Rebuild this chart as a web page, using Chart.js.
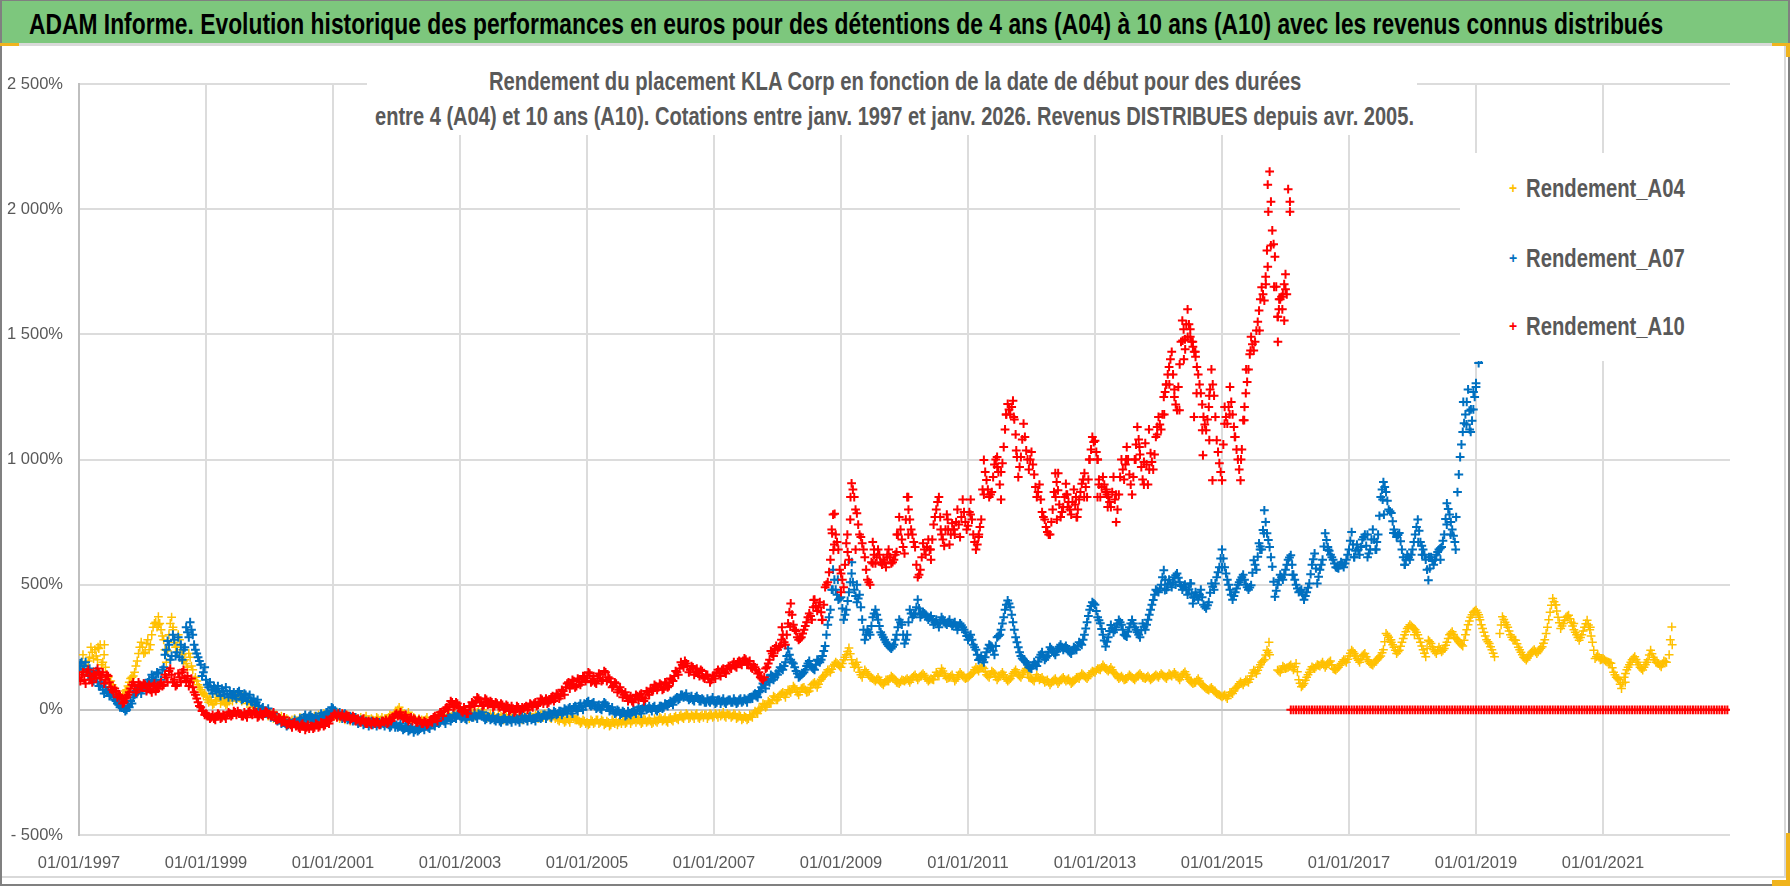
<!DOCTYPE html>
<html>
<head>
<meta charset="utf-8">
<title>ADAM Informe</title>
<script src="https://cdn.jsdelivr.net/npm/chart.js@4"></script>
<style>
  html, body { margin: 0; padding: 0; background: #fff; }
  #page { position: relative; width: 1790px; height: 886px; overflow: hidden; background: #fff; font-family: "Liberation Sans", sans-serif; }
  #chart { position: absolute; left: 0; top: 0; }
  .band { position: absolute; left: 0; top: 0; width: 1790px; height: 43px; background: #7dc77d; border-top: 1px solid #808080; box-sizing: border-box; }
  .fit { position: absolute; white-space: nowrap; transform-origin: 0 0; }
  .rule { position: absolute; background: #d9d9d9; }
  .edge { position: absolute; background: #808080; }
  .accent { position: absolute; background: #f0b41e; }
  .subtitle { position: absolute; left: 367px; top: 64px; width: 1050px; height: 71px; background: #fff; color: #595959; font-weight: bold; font-size: 25px; line-height: 35px; }
  .legendBox { position: absolute; left: 1460px; top: 153px; width: 270px; height: 208px; background: #fff; color: #595959; font-weight: bold; font-size: 26px; line-height: 30px; }
  .mark { position: absolute; left: 49px; font-size: 14px; }
</style>
</head>
<body>
<div id="page">
  <canvas id="chart" width="1790" height="886"></canvas>
  <div class="band"><span class="fit" data-w="1634" style="left:29px;top:5px;font-size:30px;line-height:36px;font-weight:bold;color:#000">ADAM Informe. Evolution historique des performances en euros pour des détentions de 4 ans (A04) à 10 ans (A10) avec les revenus connus distribués</span></div>
  <div class="rule" style="left:0;top:43px;width:1790px;height:3px"></div>
  <div class="rule" style="left:0;top:876px;width:1790px;height:2px"></div>
  <div class="rule" style="left:1784px;top:46px;width:2px;height:832px"></div>
  <div class="edge" style="left:0;top:0;width:2px;height:886px"></div>
  <div class="edge" style="left:0;top:884px;width:1790px;height:2px"></div>
  <div class="edge" style="left:1788px;top:0;width:2px;height:886px"></div>
  <div class="accent" style="left:0;top:43px;width:19px;height:3px"></div>
  <div class="accent" style="left:1772px;top:43px;width:14px;height:3px"></div>
  <div class="accent" style="left:1786px;top:43px;width:4px;height:14px"></div>
  <div class="accent" style="left:1786px;top:833px;width:4px;height:53px"></div>
  <div class="accent" style="left:1772px;top:880px;width:18px;height:6px"></div>
  <div class="subtitle">
    <span class="fit" data-w="812" style="left:122px;top:0">Rendement du placement KLA Corp en fonction de la date de début pour des durées</span>
    <span class="fit" data-w="1039" style="left:8px;top:35px">entre 4 (A04) et 10 ans (A10).  Cotations entre janv. 1997 et janv. 2026. Revenus DISTRIBUES depuis avr. 2005.</span>
  </div>
  <div class="legendBox" id="legendBox"></div>
</div>
<script>
// one value every half month from 01/01/1997, one row per year
const firstYear = 1997;
const perYear = 24;

const a04Values = [
  150,190,180,160,210,230,240,200,260,190,170,130,115,90,70,60,50,60,80,110,130,150,195,250,
  250,230,280,260,330,350,372,320,280,190,300,370,270,250,280,220,200,170,210,160,130,100,80,60,
  55,30,35,25,40,50,35,30,25,45,35,50,60,45,55,40,35,25,20,10,5,-5,-10,-15,
  -20,-25,-30,-25,-35,-40,-45,-40,-50,-55,-45,-50,-40,-35,-45,-30,-35,-25,-30,-35,-25,-20,-15,-20,
  -15,-20,-25,-30,-20,-30,-35,-30,-40,-35,-45,-40,-35,-45,-50,-40,-45,-35,-40,-45,-35,-30,-25,-20,
  -10,10,-5,-15,-25,-30,-40,-35,-45,-50,-45,-40,-55,-50,-45,-40,-35,-30,-25,-30,-20,-25,-15,-20,
  -15,-25,-30,-20,-10,-15,-20,-5,-10,-15,-20,-25,-30,-25,-30,-35,-30,-25,-35,-30,-25,-30,-35,-30,
  -35,-30,-25,-30,-35,-25,-30,-20,-15,-25,-30,-25,-35,-40,-35,-40,-45,-40,-35,-30,-40,-45,-50,-45,
  -50,-55,-45,-50,-40,-50,-45,-55,-50,-60,-50,-45,-50,-55,-45,-50,-40,-45,-35,-40,-45,-50,-40,-45,
  -45,-50,-45,-40,-35,-40,-45,-35,-40,-30,-35,-25,-30,-25,-20,-30,-25,-20,-30,-25,-30,-20,-25,-20,
  -25,-20,-15,-20,-25,-15,-20,-25,-20,-30,-25,-35,-30,-35,-25,-15,-10,5,10,20,15,30,40,50,
  40,60,70,50,80,70,95,80,60,85,90,70,75,100,110,90,115,130,140,160,150,175,190,180,
  170,200,220,247,200,170,190,150,130,160,145,130,125,115,130,110,100,120,115,135,125,110,105,120,
  115,125,110,130,140,120,135,145,130,115,125,120,150,135,165,145,125,130,140,115,130,150,135,125,
  130,140,150,170,155,175,165,140,130,155,145,120,135,150,130,115,125,145,160,140,130,150,165,130,
  125,115,140,120,130,110,120,100,115,125,105,120,130,115,125,105,115,130,125,145,135,125,140,155,
  150,165,160,179,165,155,170,150,140,125,135,120,125,140,130,120,135,145,130,125,135,120,130,140,
  130,145,135,125,145,135,150,135,120,140,152,130,115,105,110,125,105,95,85,79,90,75,65,60,
  52,60,45,70,65,85,95,112,100,120,110,135,159,145,170,190,200,238,220,null,null,159,150,175,
  165,170,179,160,185,120,92,105,130,150,172,165,180,175,190,170,186,195,165,159,170,185,200,190,
  215,238,225,205,190,215,225,200,185,179,195,205,215,240,305,290,270,250,225,238,270,300,325,340,
  330,320,300,270,240,212,278,265,240,225,250,232,245,270,300,312,290,280,265,255,300,340,370,390,
  398,380,340,310,280,265,240,212,null,305,372,350,330,300,280,278,250,230,210,199,215,230,240,225,
  240,252,280,330,390,445,420,370,325,345,370,378,350,320,300,278,300,330,358,320,270,205,220,200,
  205,195,190,186,150,130,120,85,130,160,180,200,212,190,170,159,180,200,238,210,190,185,172,195,
  190,220,331
];

const a07Values = [
  165,190,175,150,165,130,140,110,95,80,90,70,60,50,35,20,15,5,0,10,25,60,70,80,
  85,95,110,100,130,120,145,120,170,240,260,215,280,230,210,200,250,310,350,300,240,210,180,150,
  120,90,80,95,75,70,85,60,65,75,50,55,70,60,45,60,50,35,45,30,15,5,-5,-10,
  -15,-25,-30,-45,-40,-50,-55,-60,-55,-50,-60,-45,-40,-30,-35,-25,-30,-45,-35,-25,-30,-20,-10,-5,
  5,-10,-15,-25,-20,-30,-35,-30,-40,-45,-50,-45,-55,-50,-55,-60,-50,-55,-60,-55,-50,-60,-65,-55,
  -60,-65,-70,-75,-70,-80,-75,-80,-85,-75,-70,-65,-70,-60,-55,-50,-55,-40,-45,-35,-30,-35,-25,-20,
  -25,-30,-35,-25,-20,-30,-25,-15,-20,-30,-35,-30,-35,-40,-35,-45,-40,-35,-45,-40,-35,-45,-40,-35,
  -40,-35,-30,-40,-35,-30,-25,-30,-20,-25,-15,-20,-10,-15,-5,-10,0,5,-5,10,5,15,10,25,
  30,20,25,15,10,5,20,25,10,0,-5,-10,-5,-15,-10,-20,-15,-10,-5,0,-5,5,10,5,
  5,10,0,5,15,10,20,25,30,40,50,45,60,55,50,45,40,50,45,35,40,30,35,40,
  35,30,40,35,30,35,40,30,35,30,45,35,40,45,50,60,55,70,90,100,125,110,135,130,
  140,170,160,190,245,200,185,155,130,140,150,175,195,170,160,200,190,215,255,340,400,560,480,440,
  450,360,400,470,545,480,430,460,360,280,320,300,370,400,360,310,290,270,255,245,260,300,360,340,
  265,300,400,370,385,440,370,390,380,360,375,340,360,330,370,350,340,360,335,350,320,345,330,310,
  280,300,260,240,199,215,190,230,260,252,220,290,300,345,400,437,410,350,290,250,215,200,190,170,
  165,190,175,210,230,200,215,250,235,220,245,260,240,255,235,225,250,240,270,260,300,350,400,430,
  420,370,346,300,253,290,339,310,330,359,340,300,293,330,359,330,310,290,345,320,360,400,439,480,
  470,500,558,480,520,490,530,545,510,480,500,460,505,425,470,440,480,420,405,430,505,480,530,570,
  640,570,520,480,440,470,500,520,540,500,480,498,598,560,665,640,797,705,650,572,452,500,540,520,
  560,600,618,540,500,470,480,440,470,505,580,625,505,560,600,705,650,620,600,570,565,590,570,600,
  640,710,610,660,620,680,700,610,640,720,640,700,850,910,870,800,786,720,690,706,640,580,620,600,
  640,700,760,670,640,600,518,610,580,620,640,650,700,825,780,720,670,870,1010,1110,1180,1280,1110,1200,
  1305,1385,1400
];

const a10Values = [
  130,140,120,150,135,110,140,165,130,150,120,135,90,70,75,60,45,30,50,70,100,95,80,100,
  90,100,85,80,95,75,85,110,100,130,155,140,120,100,130,150,125,135,110,90,60,30,10,-5,
  -15,-25,-30,-35,-25,-20,-30,-25,-20,-15,-20,-10,-5,-15,-25,-20,-10,-15,-5,-10,-25,-20,-15,-10,
  -15,-20,-30,-40,-35,-45,-50,-55,-60,-55,-65,-70,-60,-65,-70,-75,-65,-70,-60,-65,-55,-60,-45,-40,
  -25,-20,-15,-25,-30,-20,-25,-35,-30,-40,-45,-40,-50,-55,-50,-45,-55,-50,-55,-45,-40,-50,-45,-30,
  -15,-20,-25,-30,-35,-40,-45,-40,-50,-45,-55,-50,-55,-40,-30,-35,-20,-10,-5,10,20,30,15,25,
  5,-10,0,-15,10,25,35,45,30,20,40,25,30,15,25,10,20,5,15,0,5,-5,10,0,
  5,15,10,20,25,15,30,40,35,25,40,55,45,60,55,75,90,110,100,115,95,120,110,130,
  125,145,115,110,125,140,120,150,130,110,95,105,80,75,60,50,45,35,45,55,60,50,45,70,
  85,80,95,90,100,85,105,95,120,135,150,165,180,195,175,160,170,150,145,160,130,140,125,120,
  135,150,145,160,150,165,170,180,175,190,185,195,200,185,170,180,160,150,125,130,170,200,225,245,
  240,255,300,260,345,425,340,315,280,290,320,350,385,360,440,395,430,360,490,510,600,780,700,640,
  545,490,665,600,905,850,785,700,665,610,520,500,670,585,640,590,600,570,640,585,600,630,770,680,
  625,850,760,700,650,530,560,665,620,680,600,740,800,850,700,655,780,660,745,700,800,690,840,750,
  735,840,700,640,690,760,998,918,850,870,980,1010,900,985,1120,1222,1180,1235,1100,930,1010,1143,1036,960,
  1030,940,850,900,790,760,710,700,800,945,877,770,810,903,830,780,880,770,840,903,945,850,1000,1090,
  1075,1000,850,930,870,850,810,930,750,860,1000,920,1050,940,860,1000,1130,1020,920,1065,900,1025,960,1090,
  1170,1120,1250,1300,1370,1430,1250,1197,1380,1555,1480,1600,1490,1450,1410,1340,1265,1170,1117,1210,1360,1255,1077,985,
  917,1210,1143,1290,1180,1090,1000,917,1157,1265,1360,1490,1435,1515,1595,1688,1635,1835,2150,1915,1810,1570,1640,1660,
  1740,2080,0,0,0,0,0,0,0,0,0,0,0,0,0,0,0,0,0,0,0,0,0,0,
  0,0,0,0,0,0,0,0,0,0,0,0,0,0,0,0,0,0,0,0,0,0,0,0,
  0,0,0,0,0,0,0,0,0,0,0,0,0,0,0,0,0,0,0,0,0,0,0,0,
  0,0,0,0,0,0,0,0,0,0,0,0,0,0,0,0,0,0,0,0,0,0,0,0,
  0,0,0,0,0,0,0,0,0,0,0,0,0,0,0,0,0,0,0,0,0,0,0,0,
  0,0,0,0,0,0,0,0,0,0,0,0,0,0,0,0,0,0,0,0,0,0,0,0,
  0,0,0,0,0,0,0,0,0,0,0,0,0,0,0,0,0,0,0,0,0,0,0,0
];

// readings that fall between the half month rows
const a04Between = [
  170,220,150,195,250,205,215,245,180,220,140,105,100,75,55,45,55,75,95,125,135,175,225,270,
  225,265,240,300,345,330,345,295,240,235,345,320,250,300,240,195,185,225,175,120,115,90,70,65,
  40,50,20,35,60,25,45,20,40,55,65,40,50,35,60,25,40,10,15,-5,-15,-20,-5,-25,
  -10,-35,-20,-40,-25,-50,-35,-55,-40,-35,-60,-30,-50,-25,-40,-20,-45,-35,-20,-45,-15,-30,-25,-10,
  -25,-10,-35,-15,-40,-20,-45,-25,-30,-50,-30,-50,-25,-40,-35,-55,-30,-50,-30,-35,-45,-20,-35,-10,
  0,-15,-20,-30,-10,-40,-30,-50,-35,-40,-55,-30,-45,-40,-55,-30,-45,-20,-35,-20,-35,-15,-30,-10,
  -30,-15,-20,-35,-5,-25,-10,-15,0,-25,-30,-15,-20,-35,-20,-25,-40,-20,-25,-40,-20,-35,-20,-40,
  -25,-40,-15,-35,-20,-35,-20,-30,-25,-15,-35,-15,-25,-45,-30,-50,-35,-50,-25,-40,-35,-55,-40,-55,
  -60,-40,-55,-40,-55,-40,-60,-45,-65,-40,-55,-60,-40,-45,-55,-40,-55,-35,-50,-30,-55,-35,-50,-35,
  -55,-35,-50,-30,-45,-30,-50,-30,-45,-25,-40,-20,-35,-15,-35,-20,-35,-15,-35,-20,-20,-35,-15,-30,
  -15,-30,-25,-10,-30,-20,-30,-15,-35,-20,-40,-25,-40,-20,-30,-5,-15,0,25,10,35,25,55,40,
  50,65,60,65,75,82,88,70,72,88,80,72,88,105,100,102,122,135,150,155,162,182,185,175,
  185,210,233,224,185,180,170,140,145,152,138,128,120,122,120,105,110,118,125,130,118,108,112,118,
  120,118,120,135,130,128,140,138,122,120,122,135,142,150,155,135,128,135,128,122,140,142,130,128,
  135,145,160,162,165,170,152,135,142,150,132,128,142,140,122,120,135,152,150,135,140,158,148,128,
  120,128,130,125,120,115,110,108,120,115,112,125,122,120,115,110,122,128,135,140,130,132,148,152,
  158,162,170,172,160,162,160,145,132,130,128,122,132,135,125,128,140,138,128,130,128,125,135,135,
  138,140,130,135,140,142,142,128,130,146,141,122,110,108,118,115,100,90,82,85,82,70,62,56,
  56,52,58,68,75,90,104,106,110,115,122,147,152,158,180,195,219,229,null,null,null,155,162,170,
  168,175,170,172,152,106,98,118,140,161,168,172,178,182,180,178,190,180,162,165,178,192,195,202,
  226,232,215,198,202,220,212,192,182,187,200,210,228,272,298,280,260,238,232,254,285,312,332,335,
  325,310,285,255,226,245,272,252,232,238,241,238,258,285,306,301,285,272,260,278,320,355,380,394,
  389,360,325,295,272,252,226,null,null,339,361,340,315,290,279,264,240,220,205,207,222,235,232,232,
  246,266,305,360,418,432,395,348,335,358,374,364,335,310,289,289,315,344,339,295,238,212,210,202,
  200,192,188,168,140,125,102,108,145,170,190,206,201,180,165,170,190,219,224,200,188,178,184,192
];

const a07Between = [
  185,160,190,140,150,115,155,95,110,65,75,55,70,40,25,10,25,-5,15,35,50,75,90,65,
  105,80,120,140,115,150,105,160,220,275,200,300,215,290,260,240,330,290,320,260,225,195,135,170,
  100,110,65,85,95,55,75,90,50,60,70,45,75,40,65,35,60,30,20,40,0,10,-15,5,
  -30,-15,-40,-35,-55,-40,-65,-50,-65,-40,-55,-35,-50,-20,-40,-20,-50,-25,-40,-15,-30,-10,-20,10,
  -5,-20,-10,-35,-15,-40,-25,-45,-30,-55,-40,-60,-45,-65,-45,-55,-65,-50,-45,-65,-50,-70,-50,-70,
  -70,-55,-80,-65,-85,-70,-90,-70,-80,-65,-80,-60,-75,-50,-65,-45,-50,-35,-55,-25,-45,-20,-35,-15,
  -35,-20,-40,-15,-30,-15,-35,-20,-10,-40,-25,-40,-25,-45,-30,-50,-30,-45,-30,-50,-30,-35,-50,-25,
  -30,-45,-25,-35,-45,-20,-35,-20,-35,-10,-30,-5,-20,-5,-20,5,-15,10,-15,15,-5,25,0,15,
  35,15,30,5,20,0,30,15,-5,10,-15,0,-20,-5,-25,-5,-20,0,-15,10,-15,15,0,15,
  -5,15,-5,15,5,25,15,35,20,45,40,60,50,65,40,55,35,55,35,45,30,45,30,50,
  25,40,25,45,25,40,30,45,25,40,30,45,30,50,45,65,50,75,105,85,115,140,120,145,
  155,165,175,215,220,190,170,145,135,145,160,185,180,165,180,195,200,235,300,370,480,520,460,445,
  405,380,435,510,510,455,445,410,320,300,310,335,385,380,335,300,280,262,250,252,280,330,350,300,
  280,350,385,380,410,405,380,385,370,368,360,350,345,350,360,345,350,345,342,335,332,338,320,295,
  290,280,250,220,205,200,210,245,256,236,255,295,320,370,420,425,380,320,270,230,205,195,180,168,
  178,182,192,220,215,208,232,242,228,232,252,250,248,245,230,238,245,255,265,280,325,375,415,425,
  395,358,323,277,272,315,325,320,345,350,320,297,312,345,345,320,300,318,332,340,380,420,460,475,
  485,530,520,500,505,510,538,528,495,490,480,482,465,448,455,460,450,412,418,468,492,505,550,605,
  605,545,500,460,455,485,510,530,520,490,489,548,580,612,652,718,750,678,610,512,476,520,530,540,
  580,609,580,520,485,475,460,455,488,542,602,565,532,580,652,678,635,610,585,568,578,580,585,620,
  675,660,635,640,650,690,655,625,680,680,670,775,880,890,835,793,753,705,698,673,610,600,610,620,
  670,730,715,655,620,560,565,595,600,630,645,675,762,802,750,695,770,940,1060,1145,1230,1195,1155,1250
];

const a10Between = [
  115,150,105,160,120,145,125,150,140,105,140,110,80,85,50,55,25,45,60,85,110,70,110,90,
  105,75,100,70,105,85,100,95,140,110,165,110,95,145,110,160,115,95,125,70,45,15,-5,-20,
  -25,-35,-20,-40,-15,-35,-20,-35,-10,-25,-5,-20,-15,-25,-10,-30,-5,-20,-15,-30,-10,-25,-5,-20,
  -25,-10,-40,-30,-50,-30,-60,-45,-70,-50,-60,-75,-55,-80,-60,-65,-75,-55,-70,-50,-65,-40,-55,-30,
  -15,-30,-25,-15,-35,-25,-40,-25,-45,-35,-50,-35,-55,-45,-60,-50,-45,-60,-45,-50,-55,-35,-30,-20,
  -25,-10,-35,-20,-45,-30,-35,-50,-40,-55,-45,-60,-45,-50,-25,-45,-10,-25,5,0,35,10,30,10,
  -5,10,-15,15,30,15,50,30,15,45,20,35,10,30,15,25,0,20,-5,15,-10,15,-5,10,
  10,0,25,10,30,20,45,25,45,30,50,35,65,45,80,60,105,85,120,90,125,100,135,115,
  150,110,135,105,145,115,155,115,125,90,110,70,90,50,70,35,55,30,60,40,65,35,75,60,
  75,100,80,105,80,110,90,125,115,155,140,190,170,185,150,175,140,165,135,155,125,140,110,135,
  125,160,135,165,145,175,165,190,170,195,180,205,180,195,165,170,145,130,120,165,185,235,215,255,
  250,280,270,300,390,380,320,290,285,305,335,370,375,410,415,410,390,420,500,550,720,660,670,560,
  520,580,630,760,880,800,740,690,640,560,510,590,620,610,620,580,590,610,610,590,620,700,720,650,
  760,800,720,670,580,540,610,640,650,640,680,770,830,770,680,720,720,700,720,750,740,770,790,720,
  790,760,670,660,730,880,950,880,860,930,1000,950,950,1050,1180,1200,1210,1160,1010,970,1080,1090,1000,1000,
  980,890,870,840,770,730,700,750,870,910,820,790,850,860,800,830,820,800,870,920,890,920,1040,1070,
  1030,920,890,900,860,830,870,840,800,930,960,980,1000,900,930,1060,1080,970,990,980,960,990,1020,1130,
  1140,1180,1270,1340,1400,1340,1220,1290,1470,1520,1540,1540,1470,1430,1370,1300,1220,1140,1160,1280,1300,1170,1030,950,
  1060,1170,1210,1230,1130,1040,960,1040,1210,1310,1420,1460,1470,1550,1640,1660,1730,1990,2030,1860,1690,1600,1650,1700
];

// scattered points that do not fit the rows: [year, value]
const a04Extra = [[1997.3,250],[1997.4,260],[1998.25,340],[1998.48,330],[2015.74,270],[2017.66,280],[2018.03,300],[2019.05,370],[2020.26,420],[2020.54,345],[2020.8,330],[2021.35,110],[2022.06,280],[2022.09,260]];
const a07Extra = [[2008.87,480],[2008.95,520],[2009.17,590],[2009.25,500],[2010.25,385],[2014.1,478],[2014.27,500],[2014.51,505],[2014.55,450],[2015,570],[2015.6,640],[2015.66,705],[2016.11,540],[2016.67,640],[2017.08,610],[2017.29,700],[2017.43,640],[2017.53,840],[2017.55,780],[2017.7,706],[2017.88,580],[2018.09,670],[2018.15,620],[2018.26,610],[2018.44,600],[2018.54,740],[2018.6,700],[2018.68,640],[2018.8,1230],[2018.85,1140],[2018.9,1120],[2018.92,1200],[2018.96,1270],[2019,1290]];
const a10Extra = [[2008.07,330],[2008.2,332],[2008.57,439],[2008.7,359],[2008.86,705],[2008.88,638],[2008.9,783],[2009,470],[2009.1,700],[2009.15,850],[2009.23,640],[2009.5,585],[2009.52,640],[2009.73,620],[2009.88,700],[2010.06,700],[2010.06,850],[2010.41,640],[2010.57,720],[2010.68,760],[2010.78,720],[2011.04,780],[2011.17,700],[2011.25,860],[2011.46,970],[2011.52,840],[2011.6,1180],[2011.72,1170],[2011.76,1036],[2012.4,760],[2012.42,945],[2012.38,850],[2012.57,810],[2012.55,860],[2012.72,770],[2012.7,850],[2012.83,850],[2012.91,1000],[2013.04,1000],[2013.04,850],[2013.06,900],[2013.2,810],[2013.18,880],[2013.33,860],[2013.49,1000],[2013.64,1000],[2013.7,1050],[2013.77,900],[2013.85,1120],[2013.98,1100],[2014.09,1180],[2014.12,1300],[2014.17,1300],[2014.25,1280],[2014.33,1197],[2014.38,1475],[2014.42,1440],[2014.46,1490],[2014.5,1520],[2014.54,1470],[2014.4,1400],[2014.58,1430],[2014.56,1170],[2014.6,1265],[2014.69,1117],[2014.8,1255],[2014.8,1077],[2014.7,1017],[2014.85,917],[2015.04,1143],[2015.12,1180],[2015.2,1090],[2015.3,1000],[2015.35,1157],[2015.38,1360],[2015.45,1435],[2015.59,1515],[2015.69,1700],[2015.72,1770],[2015.72,2098],[2015.77,1855],[2015.82,1690],[2015.88,1470],[2015.88,1570],[2015.9,1640],[2015.95,1600],[2015.98,1555],[2016,1680],[2016.02,1660],[2016.07,2030],[2016.07,1990]];

const seriesNames = ['Rendement_A04', 'Rendement_A07', 'Rendement_A10'];
const seriesColors = ['#ffc000', '#0070c0', '#ff0000'];
const legendTops = [20, 90, 158];

const xTickYears = [1997, 1999, 2001, 2003, 2005, 2007, 2009, 2011, 2013, 2015, 2017, 2019, 2021];
const yTickValues = [-500, 0, 500, 1000, 1500, 2000, 2500];
const yTickLabels = ['- 500%', '0%', '500%', '1 000%', '1 500%', '2 000%', '2 500%'];

function toPoints(values, between, extra) {
  const pts = [];
  values.forEach((v, i) => {
    if (v !== null) pts.push({ x: firstYear + i / perYear, y: v });
  });
  between.forEach((v, i) => {
    if (v !== null) pts.push({ x: firstYear + (i + 0.5) / perYear, y: v });
  });
  extra.forEach(e => pts.push({ x: e[0], y: e[1] }));
  return pts;
}

function makeSet(idx, values, between, extra, lineWidth) {
  return {
    label: seriesNames[idx],
    data: toPoints(values, between, extra),
    pointStyle: 'cross',
    pointRadius: 4.4,
    pointBorderWidth: lineWidth,
    borderColor: seriesColors[idx],
    backgroundColor: seriesColors[idx],
    showLine: false,
    order: 3 - idx
  };
}

const tickFont = { family: '"Liberation Sans", sans-serif', size: 16.5 };

new Chart(document.getElementById('chart').getContext('2d'), {
  type: 'scatter',
  data: {
    datasets: [
      makeSet(0, a04Values, a04Between, a04Extra, 1.5),
      makeSet(1, a07Values, a07Between, a07Extra, 2),
      makeSet(2, a10Values, a10Between, a10Extra, 2)
    ]
  },
  options: {
    responsive: false,
    animation: false,
    layout: { padding: { top: 84, right: 60, left: 0, bottom: 0 } },
    plugins: { legend: { display: false }, title: { display: false }, tooltip: { enabled: false } },
    scales: {
      x: {
        type: 'linear',
        min: 1997,
        max: 2023,
        afterBuildTicks: scale => { scale.ticks = xTickYears.map(y => ({ value: y })); },
        afterFit: scale => { scale.height = 51; },
        ticks: {
          autoSkip: false,
          maxRotation: 0,
          padding: 19,
          color: '#595959',
          font: tickFont,
          callback: v => '01/01/' + v
        },
        grid: { color: '#dcdcdc', lineWidth: 2, drawTicks: false },
        border: { display: false }
      },
      y: {
        min: -500,
        max: 2500,
        afterBuildTicks: scale => { scale.ticks = yTickValues.map(v => ({ value: v })); },
        afterFit: scale => { scale.width = 79; },
        ticks: {
          padding: 16,
          color: '#595959',
          font: tickFont,
          callback: v => yTickLabels[yTickValues.indexOf(v)]
        },
        grid: { color: ctx => ctx.tick && ctx.tick.value === 0 ? '#c4c4c4' : '#dcdcdc', lineWidth: 2, drawTicks: false },
        border: { display: true, color: '#bfbfbf', width: 2 }
      }
    }
  }
});

// legend sits on a white box over the plot, as in the original sheet
const legendBox = document.getElementById('legendBox');
seriesNames.forEach((name, i) => {
  const mark = document.createElement('span');
  mark.className = 'mark';
  mark.textContent = '+';
  mark.style.top = legendTops[i] + 'px';
  mark.style.color = seriesColors[i];
  const text = document.createElement('span');
  text.className = 'fit';
  text.dataset.w = '159';
  text.textContent = name;
  text.style.left = '66px';
  text.style.top = legendTops[i] + 'px';
  legendBox.appendChild(mark);
  legendBox.appendChild(text);
});

// the original font is narrower than anything installed: squeeze each text to its width
document.querySelectorAll('.fit').forEach(el => {
  el.style.transform = 'scaleX(' + (el.dataset.w / el.offsetWidth) + ')';
});
</script>
</body>
</html>
